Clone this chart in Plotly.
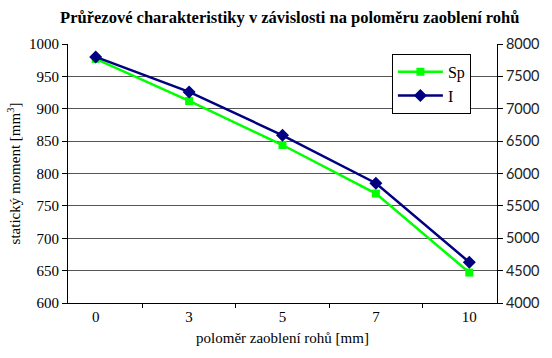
import plotly.graph_objects as go

# Corner radius categories and section properties
radius = ["0", "3", "5", "7", "10"]
sp_values = [977, 912, 844, 769, 647]          # static moment [mm^3]
i_values = [7800, 7260, 6590, 5850, 4630]      # moment of inertia

serif = "'Liberation Serif', 'DejaVu Serif', serif"

fig = go.Figure()

fig.add_trace(go.Scatter(
    x=radius, y=sp_values, name="Sp", mode="lines+markers",
    line=dict(color="#00FF00", width=2.5),
    marker=dict(symbol="square", size=8, color="#00FF00"),
    yaxis="y",
))
fig.add_trace(go.Scatter(
    x=radius, y=i_values, name="I", mode="lines+markers",
    line=dict(color="#000080", width=2.5),
    marker=dict(symbol="diamond", size=10, color="#000080"),
    yaxis="y2",
))

fig.update_layout(
    width=552, height=358,
    margin=dict(l=68, r=44, t=44, b=55),
    paper_bgcolor="white", plot_bgcolor="white",
    font=dict(family=serif, size=15, color="black"),
    title=dict(
        text="<b>Průřezové charakteristiky v závislosti na poloměru zaoblení rohů</b>",
        x=0.525, xanchor="center", y=0.952, yanchor="middle",
        font=dict(family=serif, size=16.5, color="black"),
    ),
    xaxis=dict(
        type="category", tickson="boundaries",
        showline=True, linecolor="black", linewidth=1,
        ticks="outside", ticklen=4, tickcolor="black",
        showgrid=False, zeroline=False,
        tickfont=dict(family=serif, size=15, color="black"),
        title=dict(text="poloměr zaoblení rohů [mm]", standoff=8,
                   font=dict(family=serif, size=15, color="black")),
    ),
    yaxis=dict(
        range=[600, 1000], dtick=50,
        showline=True, linecolor="black", linewidth=1,
        ticks="outside", ticklen=5, tickcolor="black",
        showgrid=True, gridcolor="#555555", gridwidth=1,
        zeroline=False,
        tickfont=dict(family=serif, size=15, color="black"),
        title=dict(text="statický moment [mm<sup>3</sup>]", standoff=4,
                   font=dict(family=serif, size=15, color="black")),
    ),
    yaxis2=dict(
        range=[4000, 8000], dtick=500, overlaying="y", side="right",
        showline=True, linecolor="black", linewidth=1,
        ticks="outside", ticklen=5, tickcolor="black",
        showgrid=False, zeroline=False,
        tickfont=dict(family="Lato", size=14.5, color="#222222"),
    ),
    legend=dict(
        x=0.755, y=0.962, xanchor="left", yanchor="top",
        bgcolor="white", bordercolor="black", borderwidth=1,
        font=dict(family=serif, size=16, color="black"),
        itemwidth=45, tracegroupgap=2,
    ),
    showlegend=True,
)

fig.write_html("out.html")
